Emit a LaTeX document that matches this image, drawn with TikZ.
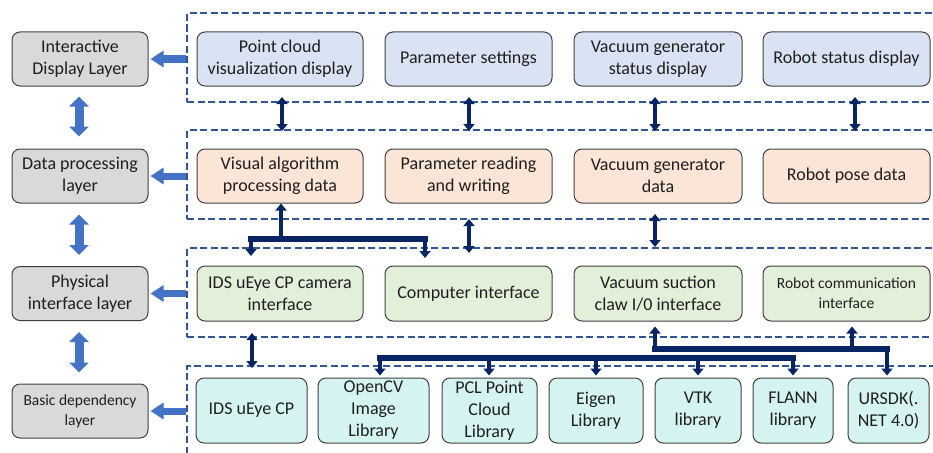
\documentclass[tikz,border=0pt]{standalone}
\usepackage{fontspec}
\setmainfont{Carlito}
\usetikzlibrary{arrows.meta,calc}
\definecolor{txt}{HTML}{1F1F1F}
\definecolor{boxline}{HTML}{404040}
\definecolor{layerfill}{HTML}{D9D9D9}
\definecolor{dispfill}{HTML}{DAE3F3}
\definecolor{datafill}{HTML}{FBE5D6}
\definecolor{iffill}{HTML}{E2F0D9}
\definecolor{libfill}{HTML}{D5F3F0}
\definecolor{framecol}{HTML}{2F5597}
\definecolor{fatblue}{HTML}{4472C4}
\definecolor{navy}{RGB}{8,36,98}
\begin{document}
\begin{tikzpicture}[x=1pt,y=-1pt,
  wh/.style 2 args={minimum width=#1pt,minimum height=#2pt},
  basebox/.style={draw=boxline,line width=1pt,rounded corners=8pt,align=center,
    inner sep=2pt,text=txt,font=\fontsize{18}{22}\selectfont},
  layerbox/.style={basebox,fill=layerfill,wh={136}{54}},
  dispbox/.style={basebox,fill=dispfill},
  databox/.style={basebox,fill=datafill},
  ifbox/.style={basebox,fill=iffill},
  libbox/.style={basebox,fill=libfill},
  smalltext/.style={font=\fontsize{15.5}{20}\selectfont},
  frame/.style={draw=framecol,line width=1.8pt,dash pattern=on 7pt off 3.5pt,
    inner sep=0pt,minimum width=753pt},
  fatarrow/.style={draw=fatblue,line width=7pt,
    -{Triangle[width=16pt,length=13pt]}},
  fatdouble/.style={draw=fatblue,line width=9pt,
    {Triangle[width=19pt,length=10pt]}-{Triangle[width=19pt,length=10pt]}},
  navyarrow/.style={draw=navy,line width=4.5pt,-{Triangle[width=11pt,length=7pt]}},
  navydouble/.style={draw=navy,line width=4.5pt,
    {Triangle[width=11pt,length=7pt]}-{Triangle[width=11pt,length=7pt]}},
  busline/.style={draw=navy,line width=6pt,line cap=rect},
]
\useasboundingbox (0,0) rectangle (933,452);
\clip (0,0) rectangle (933,452);

% dashed layer frames (open to the right)
\node[frame,minimum height=89pt]  (F1) at (563.5,57.5) {};
\node[frame,minimum height=89pt]  (F2) at (563.5,174.5) {};
\node[frame,minimum height=89pt]  (F3) at (563.5,292.5) {};
\node[frame,minimum height=104pt] (F4) at (563.5,418) {};

% layer labels
\node[layerbox] (L1) at (80,59)  {Interactive\\Display Layer};
\node[layerbox] (L2) at (80,176) {Data processing\\layer};
\node[layerbox] (L3) at (80,293.5) {Physical\\interface layer};
\node[layerbox,smalltext] (L4) at (80,411) {Basic dependency\\layer};

% interactive display layer
\node[dispbox,wh={166}{54}] (pc)  at (280,59)   {Point cloud\\visualization display};
\node[dispbox,wh={167}{54}] (ps)  at (468.5,59) {Parameter settings};
\node[dispbox,wh={168}{54}] (vgs) at (658,59)   {Vacuum generator\\status display};
\node[dispbox,wh={167}{54}] (rsd) at (846.5,59) {Robot status display};

% data processing layer
\node[databox,wh={166}{54}] (vad) at (280,176)   {Visual algorithm\\processing data};
\node[databox,wh={167}{54}] (prw) at (468.5,176) {Parameter reading\\and writing};
\node[databox,wh={168}{54}] (vgd) at (658,176)   {Vacuum generator\\data};
\node[databox,wh={167}{54}] (rpd) at (846.5,176) {Robot pose data};

% physical interface layer
\node[ifbox,wh={166}{55}] (cam) at (280,293.5)   {IDS uEye CP camera\\interface};
\node[ifbox,wh={167}{55}] (pci) at (468.5,293.5) {Computer interface};
\node[ifbox,wh={168}{55}] (vsc) at (658,293.5)   {Vacuum suction\\claw I/0 interface};
\node[ifbox,wh={167}{55},smalltext] (rci) at (846.5,293.5) {Robot communication\\interface};

% basic dependency layer
\node[libbox,wh={111}{65}] (ids)   at (251.5,410.5) {IDS uEye CP};
\node[libbox,wh={111}{65}] (ocv)   at (373.5,410.5) {OpenCV\\Image\\Library};
\node[libbox,wh={95}{65}]  (pcl)   at (489.5,410.5) {PCL Point\\Cloud\\Library};
\node[libbox,wh={94}{65}]  (eig)   at (596,410.5)   {Eigen\\Library};
\node[libbox,wh={86}{65}]  (vtk)   at (698,410.5)   {VTK\\library};
\node[libbox,wh={80}{65}]  (flann) at (793,410.5)   {FLANN\\library};
\node[libbox,wh={81}{65}]  (ursdk) at (888.5,410.5) {URSDK(.\\NET 4.0)};

% frames point to their layer labels
\foreach \f/\l in {F1/L1,F2/L2,F3/L3,F4/L4}
  \draw[fatarrow,shorten >=2pt] (\l.east -| \f.west) -- (\l.east);

% links between the layer labels
\draw[fatdouble,shorten <=10pt,shorten >=12pt] ($(L1.south)+(-1,0)$) -- ($(L2.north)+(-1,0)$);
\draw[fatdouble,shorten <=11pt,shorten >=11pt] ($(L2.south)+(-1,0)$) -- ($(L3.north)+(-1,0)$);
\draw[fatdouble,shorten <=11pt,shorten >=11pt] ($(L3.south)+(-1,0)$) -- ($(L4.north)+(-1,0)$);

% display <-> data processing
\foreach \n/\x in {a/282,b/469,c/655,d/855}{
  \coordinate (up\n) at (\x,97);
  \coordinate (dn\n) at (\x,131);
  \draw[navydouble] (up\n) -- (dn\n);
}

% data processing <-> physical interface
\coordinate (busL) at (251,238.5);
\coordinate (busR) at (425,238.5);
\coordinate (busM) at (281,238.5);
\draw[busline] (busL) -- (busR);
\draw[navyarrow] (busM) -- (busM |- vad.south);
\coordinate (camtip) at (251,256);
\coordinate (pcitip) at (425,258);
\draw[navyarrow] (busL) -- (camtip);
\draw[navyarrow] (busR) -- (pcitip);
\coordinate (prwA) at (469,219);
\coordinate (prwB) at (469,253);
\draw[navydouble] (prwA) -- (prwB);
\coordinate (vgdA) at (655,214);
\coordinate (vgdB) at (655,247);
\draw[navydouble] (vgdA) -- (vgdB);

% physical interface <-> dependency layer
\coordinate (idsA) at (252,333);
\coordinate (idsB) at (252,368);
\draw[navydouble] (idsA) -- (idsB);

% vacuum / robot bus
\coordinate (rbL) at (655,349);
\coordinate (rbM) at (852,349);
\coordinate (rbR) at (887,349);
\draw[busline] (rbL) -- (rbR);
\draw[navyarrow,shorten >=5pt] (rbL) -- (rbL |- vsc.south);
\draw[navyarrow,shorten >=5pt] (rbM) -- (rbM |- rci.south);
\draw[navyarrow,shorten >=2pt] (rbR) -- (rbR |- ursdk.north);

% library bus
\coordinate (lbL) at (380,357.5);
\coordinate (lbR) at (793,357.5);
\draw[busline] (lbL) -- (lbR);
\foreach \x/\b in {380/ocv,489/pcl,596/eig,698/vtk,793/flann}{
  \coordinate (lb\b) at (\x,357.5);
  \draw[navyarrow,shorten >=2pt] (lb\b) -- (lb\b |- \b.north);
}
\end{tikzpicture}
\end{document}
